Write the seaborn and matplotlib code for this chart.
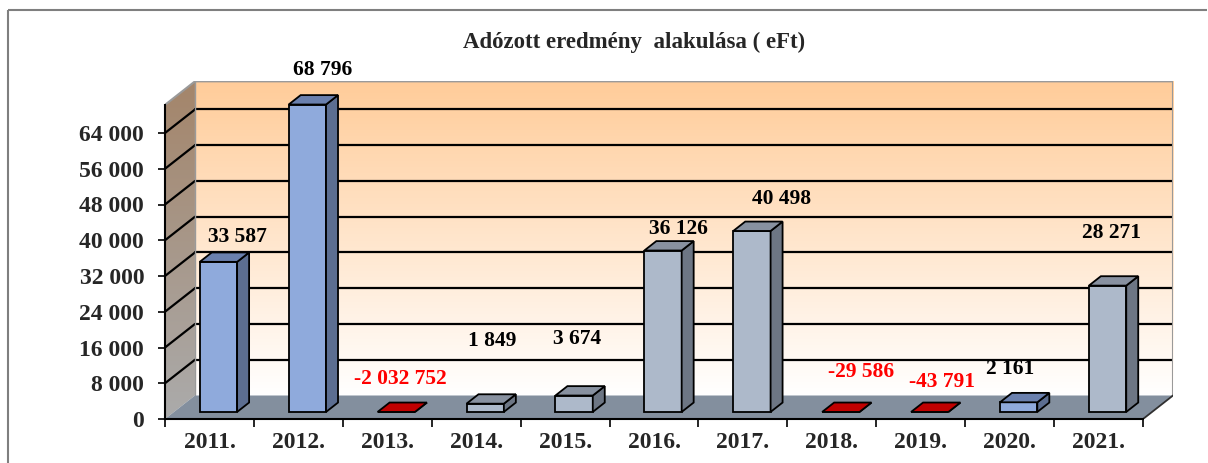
import numpy as np
import pandas as pd
import matplotlib
matplotlib.use("Agg")
import matplotlib.pyplot as plt
from matplotlib.patches import Polygon, Rectangle
from matplotlib.lines import Line2D
from matplotlib.colors import to_rgb
import seaborn as sns

# adatok
years = ['2011.', '2012.', '2013.', '2014.', '2015.', '2016.', '2017.',
         '2018.', '2019.', '2020.', '2021.']
values = [33587, 68796, -2032752, 1849, 3674, 36126, 40498, -29586, -43791, 2161, 28271]
bar_style = ['blue', 'blue', 'red', 'grey', 'grey', 'grey', 'grey', 'red', 'red', 'blue', 'grey']
y_ticks = [0, 8000, 16000, 24000, 32000, 40000, 48000, 56000, 64000]

# címkék helye (eltolás kategóriában, magasság értékben)
label_dx = [0.32, 0.27, 0.15, 0.18, 0.13, 0.28, 0.43, 0.33, 0.24, 0.0, 0.14]
label_y = [40700, 78100, 8950, 17500, 17800, 42500, 49200, 10600, 8350, 11100, 41550]

styles = {
    'blue': dict(face='#8FAADC', side='#5C6E91', top='#6A80AE'),
    'grey': dict(face='#ADB9CA', side='#6D7684', top='#8891A0'),
    'red': dict(face='#C00000', side='#800000', top='#C00000'),
}

df = pd.DataFrame({'year': years, 'value': values})
df['shown'] = df['value'].clip(lower=0)

sns.set_theme(style='white')
plt.rcParams['font.family'] = ['Liberation Serif', 'DejaVu Serif']
plt.rcParams['font.weight'] = 'bold'

W, H = 1208, 463
fig = plt.figure(figsize=(W / 100, H / 100), dpi=100)

# 3D mélység
T = 70300       # falmagasság elöl
D = 5260        # mélység függőlegesen (érték)
DX = 0.337      # mélység vízszintesen (kategória)
f0, f1 = 0.3, 0.7

px_per_val = (419 - 133) / 64000
top_val = T + D
ax_h = top_val * px_per_val
ax = fig.add_axes([165 / W, 44 / H, (1173 - 165) / W, ax_h / H])

# hátsó fal színátmenet
grad = np.linspace(1, 0, 256)[:, None]
c_top = np.array(to_rgb('#FFCC99'))
c_bot = np.array([1.0, 1.0, 1.0])
back = (grad[..., None] * c_top + (1 - grad[..., None]) * c_bot)
back = np.repeat(back, 2, axis=1)
ax.imshow(back, extent=[-0.5 + DX, 10.5 + DX, D, T + D], aspect='auto', zorder=0)

# oldalfal
side_poly = Polygon([(-0.5, 0), (-0.5 + DX, D), (-0.5 + DX, T + D), (-0.5, T)],
                    closed=True, facecolor='none', edgecolor='none', transform=ax.transData)
ax.add_patch(side_poly)
s_top = np.array(to_rgb('#A4856A'))
s_bot = np.array(to_rgb('#ABABAB'))
side = (grad[..., None] * s_top + (1 - grad[..., None]) * s_bot)
side = np.repeat(side, 2, axis=1)
im = ax.imshow(side, extent=[-0.5, -0.5 + DX, 0, T + D], aspect='auto', zorder=0)
im.set_clip_path(side_poly)

# rácsvonalak
for v in y_ticks[1:]:
    ax.plot([-0.5 + DX, 10.5 + DX], [v + D, v + D], color='black', lw=1.6, zorder=1)
    ax.plot([-0.5, -0.5 + DX], [v, v + D], color='black', lw=1.6, zorder=1)

# falak szélei
ax.plot([-0.5, -0.5 + DX, 10.5 + DX, 10.5 + DX], [T, T + D, T + D, D],
        color='#9A9A9A', lw=1.5, zorder=1)
ax.plot([-0.5 + DX, -0.5 + DX], [D, T + D], color='#9A9A9A', lw=1, zorder=1)

# padló
floor = Polygon([(-0.5, 0), (10.5, 0), (10.5 + DX, D), (-0.5 + DX, D)],
                closed=True, facecolor='#838F9E', edgecolor='none', zorder=2)
ax.add_patch(floor)
ax.plot([10.5, 10.5 + DX], [0, D], color='#303030', lw=1.3, zorder=2)

# oszlopok
palette = {y: styles[s]['face'] for y, s in zip(years, bar_style)}
sns.barplot(data=df, x='year', y='shown', hue='year', palette=palette,
            legend=False, width=0.42, edgecolor='black', linewidth=1.3,
            saturation=1, ax=ax, zorder=3)

bd = f1 - f0
for p in list(ax.patches):
    if not isinstance(p, Rectangle):
        continue
    i = int(round(p.get_x() + p.get_width() / 2))
    st = styles[bar_style[i]]
    x0 = p.get_x() + f0 * DX
    y0 = f0 * D
    w = p.get_width()
    h = p.get_height()
    p.set_x(x0)
    p.set_y(y0)
    p.set_zorder(4)
    x1 = x0 + w
    side_f = Polygon([(x1, y0), (x1 + bd * DX, y0 + bd * D),
                      (x1 + bd * DX, y0 + bd * D + h), (x1, y0 + h)],
                     closed=True, facecolor=st['side'], edgecolor='black', lw=1.3, zorder=4)
    top_f = Polygon([(x0, y0 + h), (x1, y0 + h), (x1 + bd * DX, y0 + h + bd * D),
                     (x0 + bd * DX, y0 + h + bd * D)],
                    closed=True, facecolor=st['top'], edgecolor='black', lw=1.3, zorder=4)
    ax.add_patch(side_f)
    ax.add_patch(top_f)

# adatcímkék
for i, v in enumerate(values):
    txt = f"{v:,}".replace(',', ' ')
    ax.text(i + label_dx[i], label_y[i], txt, ha='center', va='center',
            fontsize=15.5, fontweight='bold',
            color='#FF0000' if v < 0 else 'black', zorder=6, clip_on=False)

ax.set_xlim(-0.5, 10.5 + DX)
ax.set_ylim(0, top_val)

for s in ['top', 'right']:
    ax.spines[s].set_visible(False)
ax.spines['left'].set_bounds(0, T)
ax.spines['bottom'].set_bounds(-0.5, 10.5)
for s in ['left', 'bottom']:
    ax.spines[s].set_color('black')
    ax.spines[s].set_linewidth(1.5)
    ax.spines[s].set_zorder(5)

ax.set_yticks(y_ticks, labels=[f"{v:,}".replace(',', ' ') for v in y_ticks])
ax.set_xticks(range(len(years)), labels=years)
ax.set_xticks(np.arange(-0.5, 11, 1), minor=True)
ax.tick_params(axis='y', which='major', direction='out', length=5, width=1.2,
               color='black', labelsize=17, pad=10, left=True)
ax.tick_params(axis='x', which='major', length=0, labelsize=17, pad=9)
ax.tick_params(axis='x', which='minor', direction='out', length=6, width=1.2,
               color='black', bottom=True)
for lab in ax.get_xticklabels() + ax.get_yticklabels():
    lab.set_fontweight('bold')
ax.set_xlabel('')
ax.set_ylabel('')

fig.text(634 / W, 1 - 42 / H, 'Adózott eredmény  alakulása ( eFt)', ha='center', va='center',
         fontsize=16.5, fontweight='bold')

# keret (csak bal és felső él látszik)
fig.add_artist(Line2D([8 / W, 0.999], [1 - 10 / H, 1 - 10 / H], transform=fig.transFigure,
                      color='#7F7F7F', lw=1.5, solid_capstyle='butt'))
fig.add_artist(Line2D([8 / W, 8 / W], [0, 1 - 10 / H], transform=fig.transFigure,
                      color='#7F7F7F', lw=1.5, solid_capstyle='butt'))

fig.savefig('out.png', dpi=100)
